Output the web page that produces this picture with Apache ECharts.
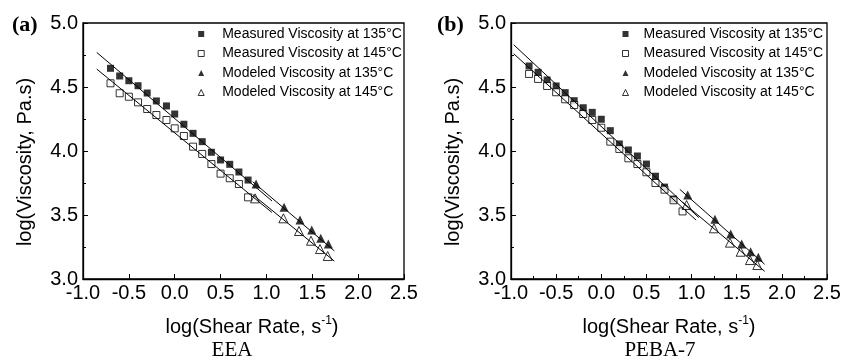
<!DOCTYPE html>
<html>
<head>
<meta charset="utf-8">
<script src="https://cdn.jsdelivr.net/npm/echarts@6/dist/echarts.min.js"></script>
<style>
html,body{margin:0;padding:0;background:#fff;}
#chart{width:853px;height:357px;}
</style>
</head>
<body>
<div id="chart"></div>
<script>
// ---------- data ----------
var xTicks = [-1.0, -0.5, 0.0, 0.5, 1.0, 1.5, 2.0, 2.5];
var yTicks = [3.0, 3.5, 4.0, 4.5, 5.0];
var seriesNames = ['Measured Viscosity at 135°C', 'Measured Viscosity at 145°C', 'Modeled Viscosity at 135°C', 'Modeled Viscosity at 145°C'];
var panelLabels = ['(a)', '(b)'];
var panelCaptions = ['EEA', 'PEBA-7'];

// Panel (a) EEA
var xMeasA = [-0.70, -0.60, -0.50, -0.40, -0.30, -0.20, -0.09, 0.00, 0.10, 0.20, 0.30, 0.40, 0.50, 0.60, 0.70, 0.80];
var yMeas135A = [4.646, 4.586, 4.549, 4.510, 4.453, 4.391, 4.352, 4.289, 4.209, 4.138, 4.073, 3.990, 3.930, 3.896, 3.836, 3.773];
var yMeas145A = [4.529, 4.451, 4.424, 4.380, 4.328, 4.281, 4.242, 4.177, 4.117, 4.034, 3.977, 3.898, 3.823, 3.787, 3.742, 3.638];
var xMod135A = [0.887, 1.192, 1.366, 1.494, 1.592, 1.675];
var yMod135A = [3.742, 3.560, 3.461, 3.383, 3.318, 3.273];
var xMod145A = [0.876, 1.185, 1.355, 1.486, 1.584, 1.668];
var yMod145A = [3.630, 3.474, 3.375, 3.299, 3.234, 3.180];
var fitMeas135A = [[-0.85, 4.77], [1.06, 3.61]];
var fitMeas145A = [[-0.85, 4.64], [1.06, 3.52]];
var fitMod135A = [[0.85, 3.76], [1.74, 3.22]];
var fitMod145A = [[0.85, 3.66], [1.74, 3.14]];

// Panel (b) PEBA-7
var xMeas135B = [-0.80, -0.70, -0.60, -0.50, -0.40, -0.30, -0.20, -0.10, 0.00, 0.10, 0.20, 0.30, 0.40, 0.50, 0.60, 0.70, 0.80];
var yMeas135B = [4.664, 4.615, 4.555, 4.508, 4.456, 4.393, 4.338, 4.302, 4.248, 4.159, 4.055, 4.008, 3.961, 3.898, 3.803, 3.718, 3.625];
var xMeas145B = [-0.80, -0.70, -0.60, -0.50, -0.40, -0.30, -0.20, -0.10, 0.00, 0.10, 0.20, 0.30, 0.40, 0.50, 0.60, 0.70, 0.80, 0.90];
var yMeas145B = [4.602, 4.563, 4.508, 4.459, 4.404, 4.359, 4.289, 4.242, 4.182, 4.073, 4.016, 3.943, 3.898, 3.834, 3.750, 3.698, 3.615, 3.528];
var xMod135B = [0.957, 1.259, 1.433, 1.555, 1.654, 1.739];
var yMod135B = [3.656, 3.466, 3.352, 3.273, 3.213, 3.170];
var xMod145B = [0.945, 1.248, 1.425, 1.544, 1.647, 1.728];
var yMod145B = [3.578, 3.396, 3.284, 3.213, 3.148, 3.109];
var fitMeas135B = [[-0.97, 4.83], [1.08, 3.48]];
var fitMeas145B = [[-0.97, 4.76], [1.05, 3.46]];
var fitMod135B = [[0.87, 3.70], [1.81, 3.115]];
var fitMod145B = [[0.90, 3.60], [1.81, 3.06]];

// ---------- build ----------
function zip(xs, ys) { return xs.map(function (x, i) { return [x, ys[i]]; }); }

var SANS = 'Liberation Sans, Arial, sans-serif';
var SERIF = 'Liberation Serif, Times New Roman, serif';

var markerStyles = [
  { symbol: 'rect', size: 7, itemStyle: { color: '#000', borderColor: '#000', borderWidth: 0 } },
  { symbol: 'rect', size: 7, itemStyle: { color: '#fff', borderColor: '#000', borderWidth: 1 } },
  { symbol: 'triangle', size: 9, itemStyle: { color: '#000', borderColor: '#000', borderWidth: 0 } },
  { symbol: 'triangle', size: 9, itemStyle: { color: '#fff', borderColor: '#000', borderWidth: 1 } }
];

var panels = [
  { scatter: [zip(xMeasA, yMeas135A), zip(xMeasA, yMeas145A), zip(xMod135A, yMod135A), zip(xMod145A, yMod145A)],
    fits: [fitMeas135A, fitMeas145A, fitMod135A, fitMod145A], xMinor: false },
  { scatter: [zip(xMeas135B, yMeas135B), zip(xMeas145B, yMeas145B), zip(xMod135B, yMod135B), zip(xMod145B, yMod145B)],
    fits: [fitMeas135B, fitMeas145B, fitMod135B, fitMod145B], xMinor: true }
];

var grids = [
  { left: 83, top: 23, width: 321, height: 256, show: true, borderColor: '#000', borderWidth: 1.3, backgroundColor: 'transparent' },
  { left: 511, top: 23, width: 316, height: 256, show: true, borderColor: '#000', borderWidth: 1.3, backgroundColor: 'transparent' }
];

var xAxes = [], yAxes = [], series = [];
panels.forEach(function (p, i) {
  xAxes.push({
    type: 'value', gridIndex: i, min: xTicks[0], max: xTicks[xTicks.length - 1], interval: 0.5,
    axisLine: { onZero: false, lineStyle: { color: '#000', width: 1.3 } },
    axisTick: { inside: true, length: 5, lineStyle: { color: '#000', width: 1 } },
    minorTick: { show: p.xMinor, splitNumber: 2, length: 3, lineStyle: { color: '#000', width: 1 } },
    splitLine: { show: false },
    axisLabel: { color: '#000', fontFamily: SANS, fontSize: 20, margin: 4,
      formatter: function (v) { return v.toFixed(1); } },
    name: 'log(Shear Rate, s{sup|-1})',
    nameLocation: 'middle', nameGap: 36,
    nameTextStyle: { color: '#000', fontFamily: SANS, fontSize: 20, padding: i === 0 ? [0, 0, 0, 17] : [0, 0, 0, 0],
      rich: { sup: { color: '#000', fontFamily: SANS, fontSize: 12, padding: [0, 0, 12, 0] } } }
  });
  yAxes.push({
    type: 'value', gridIndex: i, min: yTicks[0], max: yTicks[yTicks.length - 1], interval: 0.5,
    axisLine: { onZero: false, lineStyle: { color: '#000', width: 1.3 } },
    axisTick: { inside: true, length: 5, lineStyle: { color: '#000', width: 1 } },
    minorTick: { show: true, splitNumber: 2, length: 3, lineStyle: { color: '#000', width: 1 } },
    splitLine: { show: false },
    axisLabel: { color: '#000', fontFamily: SANS, fontSize: 20, margin: 5,
      formatter: function (v) { return v.toFixed(1); } },
    name: 'log(Viscosity, Pa.s)',
    nameLocation: 'middle', nameGap: 48,
    nameTextStyle: { color: '#000', fontFamily: SANS, fontSize: 20, padding: [0, 22, 0, 0] }
  });
  p.scatter.forEach(function (d, k) {
    series.push({
      type: 'scatter', name: seriesNames[k], xAxisIndex: i, yAxisIndex: i,
      symbol: markerStyles[k].symbol, symbolSize: markerStyles[k].size,
      itemStyle: markerStyles[k].itemStyle, data: d, z: 2, silent: true
    });
  });
  p.fits.forEach(function (d) {
    series.push({
      type: 'line', xAxisIndex: i, yAxisIndex: i, data: d, symbol: 'none',
      lineStyle: { color: '#000', width: 1 }, z: 5, silent: true
    });
  });
});

function legendFor(iconCenterX, textPad) {
  return {
    left: iconCenterX - 3, top: 27, orient: 'vertical', itemWidth: 6, itemHeight: 6, itemGap: 5.5,
    padding: 0, selectedMode: false,
    textStyle: { color: '#000', fontFamily: SANS, fontSize: 14, padding: [0, 0, 0, textPad] },
    data: seriesNames.map(function (n, k) {
      var st = markerStyles[k].itemStyle;
      return { name: n, icon: markerStyles[k].symbol,
        itemStyle: { color: st.color, borderColor: '#000', borderWidth: st.borderWidth } };
    })
  };
}

var option = {
  animation: false,
  backgroundColor: '#fff',
  grid: grids,
  xAxis: xAxes,
  yAxis: yAxes,
  legend: [legendFor(200.7, 13), legendFor(625, 10)],
  series: series,
  graphic: [
    { type: 'text', left: 12, top: 14, style: { text: panelLabels[0], font: 'bold 22px ' + SERIF, fill: '#000' } },
    { type: 'text', left: 437, top: 14, style: { text: panelLabels[1], font: 'bold 22px ' + SERIF, fill: '#000' } },
    { type: 'text', x: 232, y: 350, style: { text: panelCaptions[0], font: '21px ' + SERIF, fill: '#000', align: 'center', verticalAlign: 'middle' } },
    { type: 'text', x: 660, y: 350, style: { text: panelCaptions[1], font: '21px ' + SERIF, fill: '#000', align: 'center', verticalAlign: 'middle' } }
  ]
};

var chart = echarts.init(document.getElementById('chart'), null, { renderer: 'canvas' });
chart.setOption(option);
</script>
</body>
</html>
